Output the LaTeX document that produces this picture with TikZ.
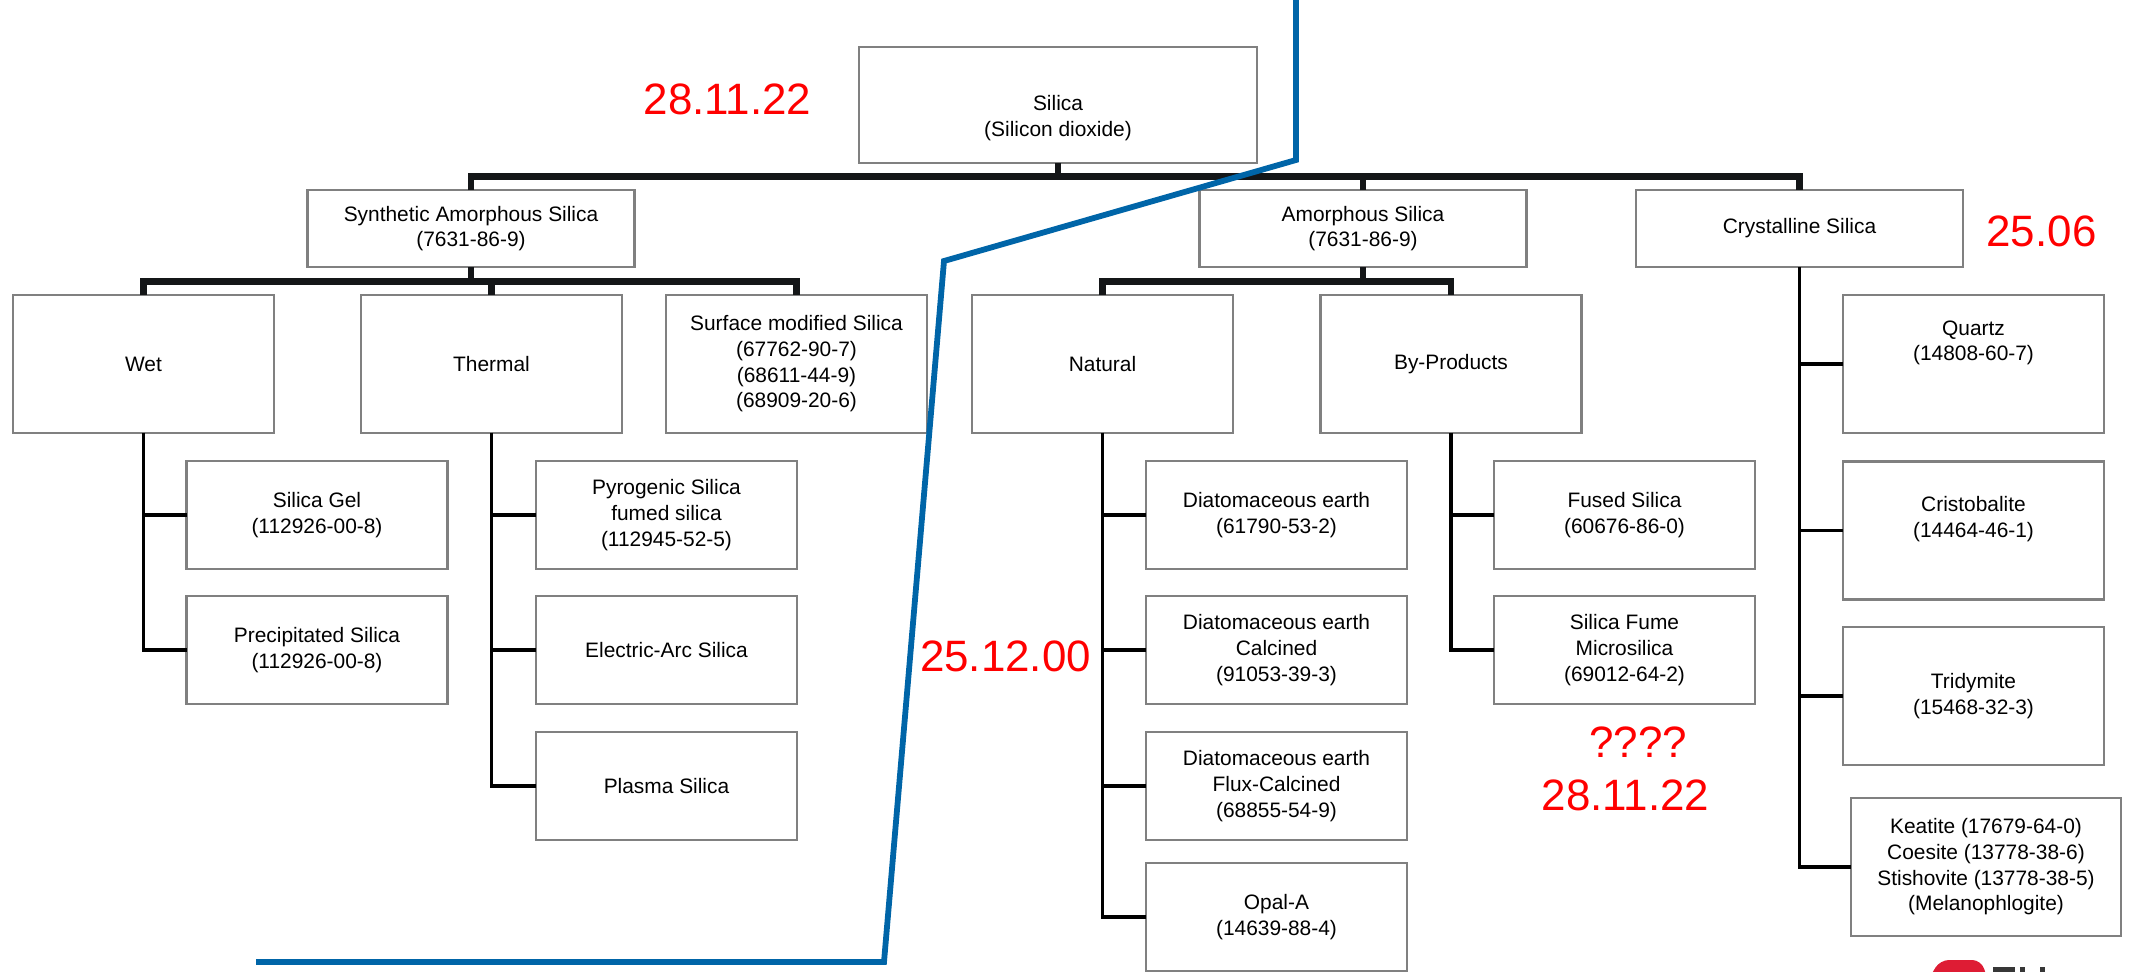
\documentclass[tikz,border=0pt]{standalone}
\usepackage{fontspec}
\setmainfont{Liberation Sans}
\definecolor{boxgray}{RGB}{128,128,128}
\definecolor{busblack}{RGB}{20,22,24}
\definecolor{lineblue}{RGB}{0,101,168}
\definecolor{logored}{RGB}{222,28,52}
\definecolor{logodark}{RGB}{55,55,55}

\begin{document}
\begin{tikzpicture}[x=0.02cm,y=-0.02cm,
  box/.style={draw=boxgray,line width=1.4pt,fill=white,align=center,inner sep=1pt,outer sep=0pt,font=\fontsize{11.9}{14.6}\selectfont},
  mid/.style={box,minimum width=6.54cm,minimum height=1.54cm},
  big/.style={box,minimum width=5.22cm,minimum height=2.76cm},
  small/.style={box,minimum width=5.22cm,minimum height=2.16cm},
  bus/.style={draw=busblack,line width=3.7pt},
  twig/.style={draw=black,line width=1.8pt},
  blueline/.style={draw=lineblue,line width=3.3pt},
  date/.style={text=red,font=\fontsize{25}{30}\selectfont,inner sep=0pt}]
\useasboundingbox (0,0) rectangle (2134,971);

  \node[box,minimum width=7.96cm,minimum height=2.32cm] (a1) at (1058,105) {\rule{0pt}{23.5pt}Silica\\(Silicon dioxide)};

 \node[mid] (b1) at (471,228.5) {Synthetic Amorphous Silica\\(7631-86-9)};
 \node[mid] (b2) at (1363,228.5) {Amorphous Silica\\(7631-86-9)};
 \node[mid] (b3) at (1799.5,228.5) {Crystalline Silica};

  \node[big] (c1) at (143.5,364) {Wet};
  \node[big] (c2) at (491.5,364) {Thermal};
  \node[big] (c3) at (796.5,364) {Surface modified Silica\\(67762-90-7)\\(68611-44-9)\\(68909-20-6)};
  \node[big] (c4) at (1102.5,364) {Natural};
  \node[big] (c5) at (1451,364) {By-Products};

 \node[small] (d1) at (317,515) {Silica Gel\\(112926-00-8)};
 \node[small] (d2) at (317,650) {Precipitated Silica\\(112926-00-8)};
 \node[small] (d3) at (666.5,515) {Pyrogenic Silica\\fumed silica\\(112945-52-5)};
 \node[small] (d4) at (666.5,650) {Electric-Arc Silica};
 \node[small] (d5) at (666.5,786) {Plasma Silica};
 \node[small] (d6) at (1276.5,515) {Diatomaceous earth\\(61790-53-2)};
 \node[small] (d7) at (1276.5,650) {Diatomaceous earth\\Calcined\\(91053-39-3)};
 \node[small] (d8) at (1276.5,786) {Diatomaceous earth\\Flux-Calcined\\(68855-54-9)};
 \node[small] (d9) at (1276.5,917) {Opal-A\\(14639-88-4)};
 \node[small] (d10) at (1624.5,515) {Fused Silica\\(60676-86-0)};
 \node[small] (d11) at (1624.5,650) {Silica Fume\\Microsilica\\(69012-64-2)};

  \node[big] (q1) at (1973.5,364) {Quartz\\(14808-60-7)\rule[-26.5pt]{0pt}{0pt}};
  \node[big] (q2) at (1973.5,530.5) {Cristobalite\\(14464-46-1)\rule[-15.5pt]{0pt}{0pt}};
  \node[big] (q3) at (1973.5,696) {Tridymite\\(15468-32-3)};
  \node[box,minimum width=5.4cm,minimum height=2.76cm] (q4) at (1986,867) {Keatite (17679-64-0)\\Coesite (13778-38-6)\\Stishovite (13778-38-5)\\(Melanophlogite)};

 \node[date] (t1) at (727.5,99) {28.11.22};
 \node[date] (t2) at (2041.5,231) {25.06};
 \node[date] (t3) at (1005.5,656) {25.12.00};
 \node[date] (t4) at (1638,742) {????};
 \node[date] (t5) at (1625.5,795) {28.11.22};

 \draw[bus] (b1.north) -- ++(0,-13.3) -| (b3.north);
 \draw[bus] (a1.south) -- ++(0,14);
 \draw[bus] (b2.north) -- ++(0,-13.3);
 \draw[bus] (c1.north) -- ++(0,-13.3) -| (c3.north);
 \draw[bus] (b1.south) -- ++(0,14.7);
 \draw[bus] (c2.north) -- ++(0,-13.3);
 \draw[bus] (c4.north) -- ++(0,-13.3) -| (c5.north);
 \draw[bus] (b2.south) -- ++(0,14.7);

 \draw[twig] (c1.south) |- (d1.west);
 \draw[twig] (c1.south) |- (d2.west);
 \draw[twig] (c2.south) |- (d3.west);
 \draw[twig] (c2.south) |- (d4.west);
 \draw[twig] (c2.south) |- (d5.west);
 \draw[twig] (c4.south) |- (d6.west);
 \draw[twig] (c4.south) |- (d7.west);
 \draw[twig] (c4.south) |- (d8.west);
 \draw[twig] (c4.south) |- (d9.west);
 \draw[twig] (c5.south) |- (d10.west);
 \draw[twig] (c5.south) |- (d11.west);
 \draw[twig] (b3.south) |- (q1.west);
 \draw[twig] (b3.south) |- (q2.west);
 \draw[twig] (b3.south) |- (q3.west);
 \draw[twig] (b3.south) |- (q4.west);

\draw[blueline] (1296,-10) -- (1296,160) -- (944,261) -- (884,962) -- (256,962);

\fill[logored,rounded corners=5] (1928,980) -- (1940,960) -- (1981,960) -- (1988,980) -- cycle;
\fill[logodark] (1993,967) rectangle (2015,975);
\fill[logodark] (2020,967) rectangle (2025,975);
\fill[logodark] (2040,967) rectangle (2045,975);
\end{tikzpicture}
\end{document}
